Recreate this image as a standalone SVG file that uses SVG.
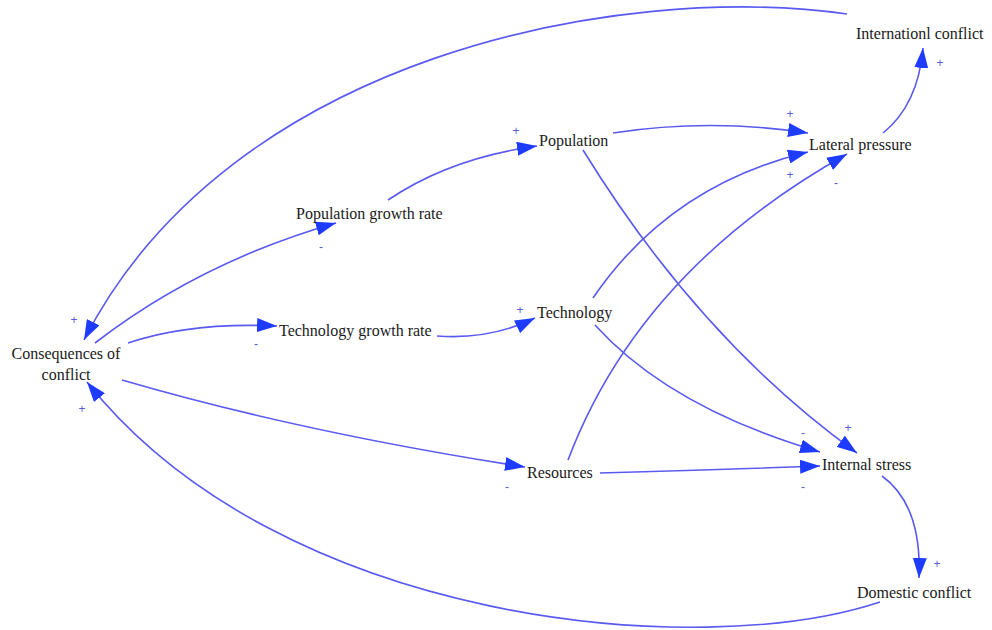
<svg xmlns="http://www.w3.org/2000/svg" width="992" height="630" viewBox="0 0 992 630">
<style>
.n{font-family:"Liberation Serif","Times New Roman",serif;font-size:16px;fill:#1a1a1a}
.e{fill:none;stroke:#5a5af0;stroke-width:1.6}
.p{font-family:"Liberation Sans",Arial,sans-serif;font-size:12px;fill:#5a5ad8;text-anchor:middle}
</style>
<defs>
<marker id="ah" markerUnits="userSpaceOnUse" markerWidth="22" markerHeight="14" refX="20" refY="7" orient="auto">
<path d="M0,0 L20,7 L0,14 Z" fill="#1e3cff"/>
</marker>
</defs>
<rect width="992" height="630" fill="#fff"/>
<g id="connectors">
<path class="e" marker-end="url(#ah)" d="M847,14 C620,-18 230,55 84,340"/>
<path class="e" marker-end="url(#ah)" d="M95,343 Q200,262 336,223"/>
<path class="e" marker-end="url(#ah)" d="M388,200 Q450,158 537,146"/>
<path class="e" marker-end="url(#ah)" d="M613,133 Q710,118 808,133"/>
<path class="e" marker-end="url(#ah)" d="M593,298 Q670,185 808,152"/>
<path class="e" marker-end="url(#ah)" d="M568,460 Q640,270 847,154"/>
<path class="e" marker-end="url(#ah)" d="M883,133 Q918,105 923,48"/>
<path class="e" marker-end="url(#ah)" d="M128,343 Q190,322 277,326"/>
<path class="e" marker-end="url(#ah)" d="M437,336 Q490,340 535,318"/>
<path class="e" marker-end="url(#ah)" d="M122,380 Q300,432 525,467"/>
<path class="e" marker-end="url(#ah)" d="M600,473 Q710,470 820,466"/>
<path class="e" marker-end="url(#ah)" d="M595,325 Q670,408 820,452"/>
<path class="e" marker-end="url(#ah)" d="M583,150 Q700,340 857,453"/>
<path class="e" marker-end="url(#ah)" d="M882,476 Q922,505 919,578"/>
<path class="e" marker-end="url(#ah)" d="M880,602 C700,662 280,625 87,382"/>
</g>
<g id="polarities">
<text class="p" x="74" y="324">+</text>
<text class="p" x="321" y="251">-</text>
<text class="p" x="516" y="135">+</text>
<text class="p" x="790" y="118">+</text>
<text class="p" x="790" y="179">+</text>
<text class="p" x="836" y="187">-</text>
<text class="p" x="940" y="67">+</text>
<text class="p" x="256" y="348">-</text>
<text class="p" x="520" y="314">+</text>
<text class="p" x="507" y="491">-</text>
<text class="p" x="803" y="491">-</text>
<text class="p" x="803" y="437">-</text>
<text class="p" x="848" y="432">+</text>
<text class="p" x="937" y="568">+</text>
<text class="p" x="82" y="413">+</text>
</g>
<g id="international"><text class="n" x="856" y="39">Internationl conflict</text></g>
<g id="population"><text class="n" x="539" y="146">Population</text></g>
<g id="lateral"><text class="n" x="809" y="150">Lateral pressure</text></g>
<g id="popgrowth"><text class="n" x="296" y="219">Population growth rate</text></g>
<g id="techgrowth"><text class="n" x="279" y="336">Technology growth rate</text></g>
<g id="technology"><text class="n" x="537" y="318">Technology</text></g>
<g id="consequences"><text class="n" x="66" y="359" text-anchor="middle">Consequences of</text><text class="n" x="66" y="380" text-anchor="middle">conflict</text></g>
<g id="resources"><text class="n" x="527" y="478">Resources</text></g>
<g id="internal"><text class="n" x="822" y="470">Internal stress</text></g>
<g id="domestic"><text class="n" x="857" y="598">Domestic conflict</text></g>
</svg>
